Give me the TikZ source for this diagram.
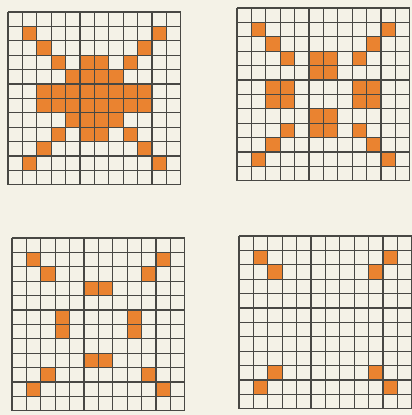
\documentclass[tikz,border=0pt]{standalone}
\usepackage{xcolor}
\usepackage{tikz}
\usetikzlibrary{positioning}

\definecolor{paper}{RGB}{244,242,231}
\definecolor{orangecell}{RGB}{234,131,48}
\definecolor{gridgray}{RGB}{72,72,68}

\begin{document}
\begin{tikzpicture}[x=1pt, y=-1pt,
    cell/.style={fill=orangecell},
    gridline/.style={draw=gridgray, line width=1.1pt}]

    % =================================================================
    % 1. NỀN GIẤY
    % =================================================================
    \fill[paper] (0,0) rectangle (412,415);
    \useasboundingbox (0,0) rectangle (412,415);

    % Góc trên trái của bốn lưới 12x12
    \coordinate (GridA) at (8,12);
    \coordinate (GridB) at (237,8);
    \coordinate (GridC) at (12,238);
    \coordinate (GridD) at (239,236);

    % =================================================================
    % 2. LƯỚI TRÊN TRÁI: HÌNH ĐẶC
    % =================================================================
    \begin{scope}[shift={(GridA)}]
        \foreach \c/\r in {1/1,10/1,2/2,9/2,3/3,5/3,6/3,8/3,
                           4/4,5/4,6/4,7/4,4/7,5/7,6/7,7/7,
                           3/8,5/8,6/8,8/8,2/9,9/9,1/10,10/10}
            \fill[cell] (\c*14.4,\r*14.4) rectangle ++(14.4,14.4);
        \foreach \r in {5,6}
            \foreach \c in {2,...,9}
                \fill[cell] (\c*14.4,\r*14.4) rectangle ++(14.4,14.4);
        \foreach \i in {0,...,12} {
            \draw[gridline] (\i*14.4,0) -- (\i*14.4,172.8);
            \draw[gridline] (0,\i*14.4) -- (172.8,\i*14.4);
        }
    \end{scope}

    % =================================================================
    % 3. LƯỚI TRÊN PHẢI: ĐƯỜNG VIỀN
    % =================================================================
    \begin{scope}[shift={(GridB)}]
        \foreach \c/\r in {1/1,10/1,2/2,9/2,3/3,5/3,6/3,8/3,
                           5/4,6/4,2/5,3/5,8/5,9/5,2/6,3/6,8/6,9/6,
                           5/7,6/7,3/8,5/8,6/8,8/8,2/9,9/9,1/10,10/10}
            \fill[cell] (\c*14.4,\r*14.4) rectangle ++(14.4,14.4);
        \foreach \i in {0,...,12} {
            \draw[gridline] (\i*14.4,0) -- (\i*14.4,172.8);
            \draw[gridline] (0,\i*14.4) -- (172.8,\i*14.4);
        }
    \end{scope}

    % =================================================================
    % 4. LƯỚI DƯỚI TRÁI
    % =================================================================
    \begin{scope}[shift={(GridC)}]
        \foreach \c/\r in {1/1,10/1,2/2,9/2,5/3,6/3,3/5,8/5,
                           3/6,8/6,5/8,6/8,2/9,9/9,1/10,10/10}
            \fill[cell] (\c*14.4,\r*14.4) rectangle ++(14.4,14.4);
        \foreach \i in {0,...,12} {
            \draw[gridline] (\i*14.4,0) -- (\i*14.4,172.8);
            \draw[gridline] (0,\i*14.4) -- (172.8,\i*14.4);
        }
    \end{scope}

    % =================================================================
    % 5. LƯỚI DƯỚI PHẢI
    % =================================================================
    \begin{scope}[shift={(GridD)}]
        \foreach \c/\r in {1/1,10/1,2/2,9/2,2/9,9/9,1/10,10/10}
            \fill[cell] (\c*14.4,\r*14.4) rectangle ++(14.4,14.4);
        \foreach \i in {0,...,12} {
            \draw[gridline] (\i*14.4,0) -- (\i*14.4,172.8);
            \draw[gridline] (0,\i*14.4) -- (172.8,\i*14.4);
        }
    \end{scope}

\end{tikzpicture}
\end{document}
